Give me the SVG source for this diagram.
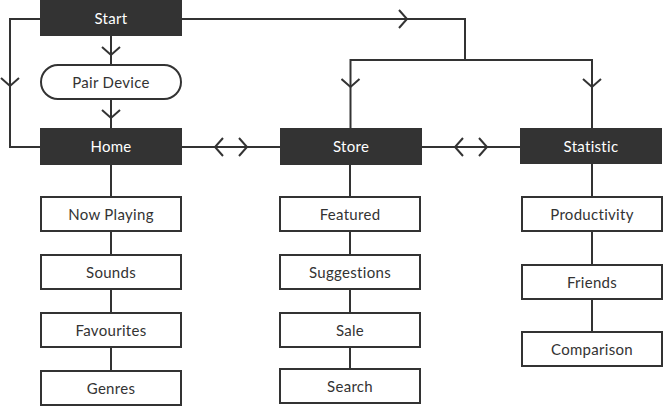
<svg xmlns="http://www.w3.org/2000/svg" width="663" height="406" viewBox="0 0 663 406">
<style>
.ln{fill:none;stroke:#333;stroke-width:2}
.dark{fill:#333}
.box{fill:#fff;stroke:#333;stroke-width:2}
.lt{font-family:Lato,"Noto Sans",sans-serif;font-size:15px;letter-spacing:0.3px;fill:#fff;text-anchor:middle}
.tx{font-family:Lato,"Noto Sans",sans-serif;font-size:15px;letter-spacing:0.3px;fill:#333;text-anchor:middle}
</style>
<defs>
<marker id="chev" viewBox="-10 -10 12 20" refX="0" refY="0" markerUnits="userSpaceOnUse" markerWidth="12" markerHeight="20" orient="auto">
<path d="M-8,-9 L0,0 L-8,9" fill="none" stroke="#333" stroke-width="2"/>
</marker>
</defs>
<g id="connectors">
<path class="ln" d="M40,19 H10 V86" marker-end="url(#chev)"/>
<path class="ln" d="M10,86 V147 H40"/>
<path class="ln" d="M111,36 V55" marker-end="url(#chev)"/>
<path class="ln" d="M111,55 V64"/>
<path class="ln" d="M111,100 V118" marker-end="url(#chev)"/>
<path class="ln" d="M111,118 V128"/>
<path class="ln" d="M182,19 H407" marker-end="url(#chev)"/>
<path class="ln" d="M407,19 H465 V60"/>
<path class="ln" d="M350.5,60 H592"/>
<path class="ln" d="M350.5,59 V87" marker-end="url(#chev)"/>
<path class="ln" d="M350.5,87 V128"/>
<path class="ln" d="M592,59 V87" marker-end="url(#chev)"/>
<path class="ln" d="M592,87 V128"/>
<path class="ln" d="M182,147 H280"/>
<path class="ln" d="M231,147 H215" marker-end="url(#chev)"/>
<path class="ln" d="M231,147 H247" marker-end="url(#chev)"/>
<path class="ln" d="M422,147 H520"/>
<path class="ln" d="M471,147 H455" marker-end="url(#chev)"/>
<path class="ln" d="M471,147 H487" marker-end="url(#chev)"/>
<path class="ln" d="M111,165 V371"/>
<path class="ln" d="M350,165 V369"/>
<path class="ln" d="M592,164 V332"/>
</g>
<g id="start"><rect class="dark" x="40" y="0" width="142" height="36"/><text class="lt" x="111" y="23.5">Start</text></g>
<g id="pair-device"><rect class="box" x="41" y="65" width="140" height="34" rx="17"/><text class="tx" x="111" y="87.5">Pair Device</text></g>
<g id="home"><rect class="dark" x="40" y="128" width="142" height="37"/><text class="lt" x="111" y="152">Home</text></g>
<g id="store"><rect class="dark" x="280" y="128" width="142" height="37"/><text class="lt" x="351" y="152">Store</text></g>
<g id="statistic"><rect class="dark" x="520" y="128" width="142" height="36"/><text class="lt" x="591" y="151.5">Statistic</text></g>
<g id="now-playing"><rect class="box" x="41" y="197" width="140" height="34"/><text class="tx" x="111" y="219.5">Now Playing</text></g>
<g id="sounds"><rect class="box" x="41" y="255" width="140" height="34"/><text class="tx" x="111" y="277.5">Sounds</text></g>
<g id="favourites"><rect class="box" x="41" y="313" width="140" height="34"/><text class="tx" x="111" y="335.5">Favourites</text></g>
<g id="genres"><rect class="box" x="41" y="371" width="140" height="34"/><text class="tx" x="111" y="393.5">Genres</text></g>
<g id="featured"><rect class="box" x="280" y="197" width="140" height="34"/><text class="tx" x="350" y="219.5">Featured</text></g>
<g id="suggestions"><rect class="box" x="280" y="255" width="140" height="34"/><text class="tx" x="350" y="277.5">Suggestions</text></g>
<g id="sale"><rect class="box" x="280" y="313" width="140" height="34"/><text class="tx" x="350" y="335.5">Sale</text></g>
<g id="search"><rect class="box" x="280" y="369" width="140" height="34"/><text class="tx" x="350" y="391.5">Search</text></g>
<g id="productivity"><rect class="box" x="522" y="197" width="140" height="34"/><text class="tx" x="592" y="219.5">Productivity</text></g>
<g id="friends"><rect class="box" x="522" y="265" width="140" height="34"/><text class="tx" x="592" y="287.5">Friends</text></g>
<g id="comparison"><rect class="box" x="522" y="332" width="140" height="34"/><text class="tx" x="592" y="354.5">Comparison</text></g>
</svg>
